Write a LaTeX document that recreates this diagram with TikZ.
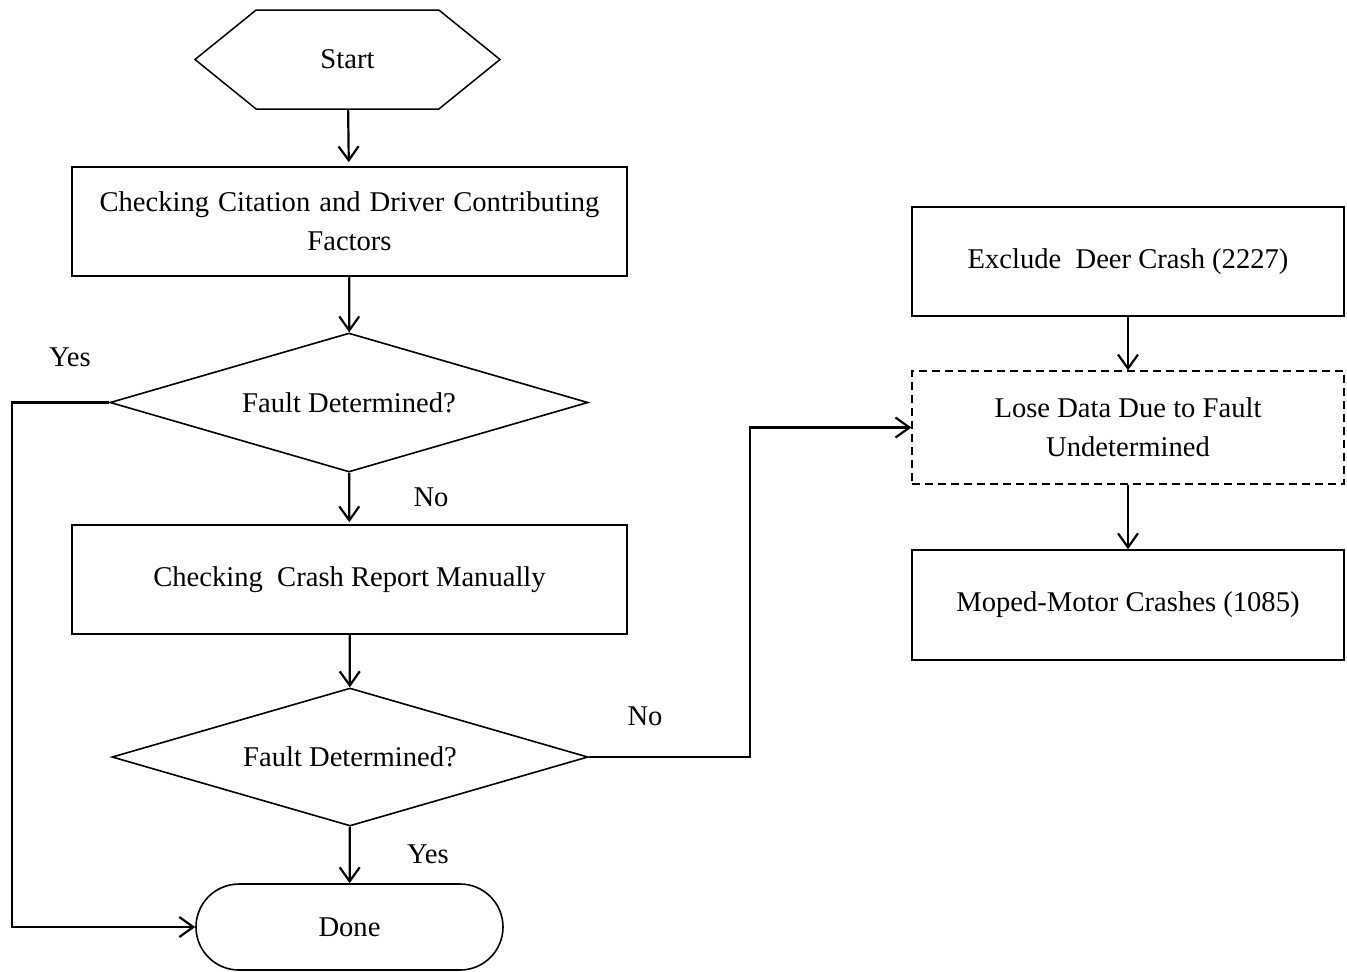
\documentclass[tikz,border=0pt]{standalone}
\usepackage{fontspec}
\setmainfont{Liberation Serif}
\usepackage{tikz}
\usetikzlibrary{arrows.meta,shapes.geometric,shapes.misc,shapes.symbols}

\begin{document}
\begin{tikzpicture}[
		x=0.5pt, y=-0.5pt,
		font=\fontsize{14.3pt}{19.5pt}\selectfont,
		MyArrow/.style={line width=1.1pt, -{Straight Barb[length=7pt, width=10pt, line width=1.1pt]}},
		MyBox/.style={draw, line width=0.8pt, minimum width=277.5pt, minimum height=54.5pt,
			inner sep=0pt, align=center},
		MySideBox/.style={MyBox, minimum width=216pt},
		MyDecision/.style={draw, diamond, aspect=3.44, line width=0.8pt, inner sep=0pt,
			minimum width=239pt, minimum height=69.5pt},
		MyStart/.style={draw, signal, signal to=west and east, signal pointer angle=78,
			line width=0.75pt, minimum width=152.5pt, minimum height=49.5pt, inner sep=0pt},
		MyEnd/.style={draw, rounded rectangle, line width=0.8pt, minimum width=153.5pt,
			minimum height=43pt, inner sep=0pt},
		MyLabel/.style={inner sep=0pt},
		]
		\useasboundingbox (0,0) rectangle (1347,971);
		
		% main column
		\node [MyStart] (start) at (347.5,59.5) {Start};
		\node [MyBox] (citation) at (349.5,221.5)
			{\makebox[250pt][s]{Checking Citation and Driver Contributing}\\Factors};
		\node [MyDecision] (fault1) at (349,402.5) {Fault\ Determined?};
		\node [MyBox] (manual) at (349.5,579.5) {Checking\ \ Crash Report Manually};
		\node [MyDecision, minimum width=238pt, minimum height=69pt] (fault2) at (350,757) {Fault\ Determined?};
		\node [MyEnd] (done) at (349.5,927) {Done};
		
		% right column
		\node [MySideBox] (deer) at (1128,261.5) {Exclude\ \ Deer Crash (2227)};
		\node [MySideBox, dashed, line width=0.6pt, dash pattern=on 4pt off 2.5pt,
			minimum height=56.5pt] (lose) at (1128,427.5) {Lose Data Due to Fault\\Undetermined};
		\node [MySideBox, minimum height=55pt] (moped) at (1128,605) {Moped-Motor Crashes (1085)};
		
		% labels
		\node [MyLabel] (yes1) at (70,357) {Yes};
		\node [MyLabel] (no1) at (431,497) {No};
		\node [MyLabel] (no2) at (645,716) {No};
		\node [MyLabel] (yes2) at (428,854) {Yes};
		
		\coordinate (lft) at (12,402.5);
		\coordinate (mid) at (750,757);
		
		\draw [MyArrow, shorten >=2pt] (start) -- (citation);
		\draw [MyArrow] (citation) -- (fault1);
		\draw [MyArrow, shorten >=1pt] (fault1) -- (manual);
		\draw [MyArrow] (manual) -- (fault2);
		\draw [MyArrow] (fault2) -- (done);
		\draw [MyArrow] (fault1.west) -- (lft) |- (done.west);
		\draw [MyArrow] (fault2.east) -- (mid) |- (lose.west);
		\draw [MyArrow] (deer) -- (lose);
		\draw [MyArrow] (lose) -- (moped);
		
\end{tikzpicture}
\end{document}
